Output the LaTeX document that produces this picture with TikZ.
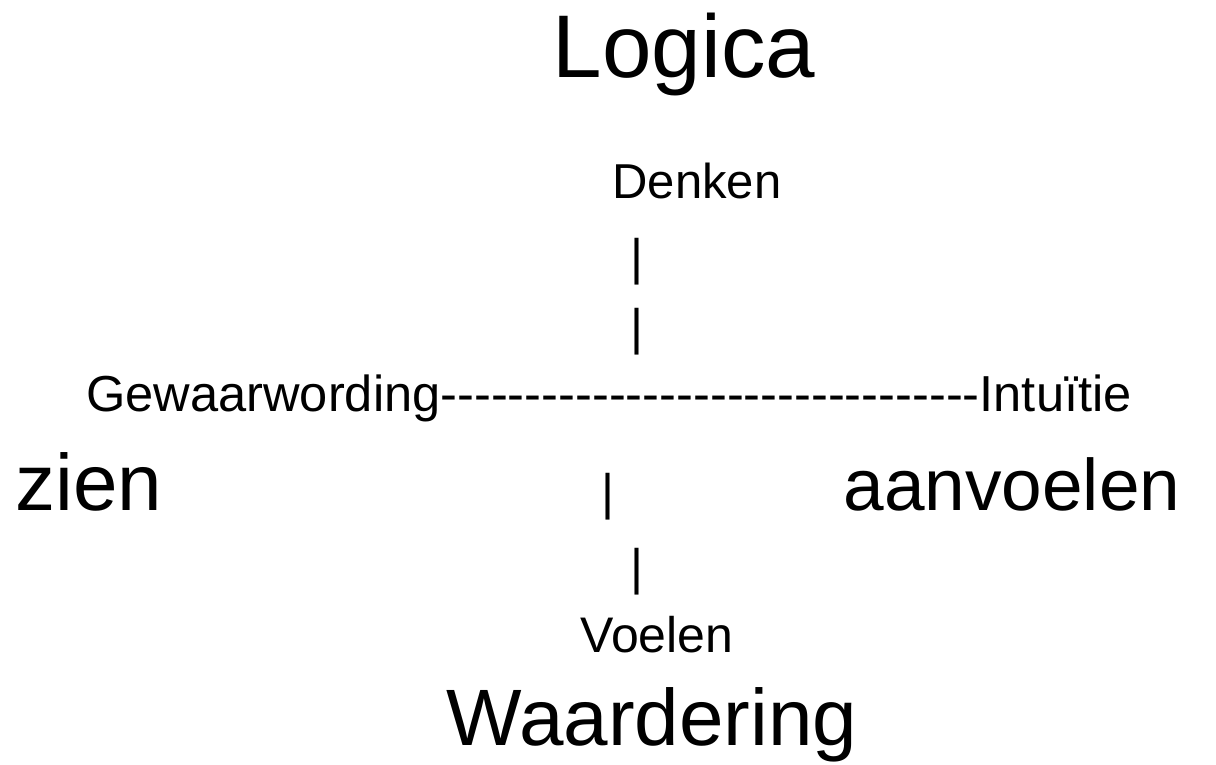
\documentclass[tikz,border=0pt]{standalone}
\usepackage{fontspec}
\setmainfont{Liberation Sans}
\usepackage{tikz}
\usetikzlibrary{positioning}
\tikzstyle{woord} = [inner sep=0pt, anchor=base]
\tikzstyle{groot} = [woord, font=\fontsize{80}{80}\selectfont]
\tikzstyle{klein} = [woord, font=\fontsize{50}{50}\selectfont]
\newcommand{\streep}{-{}}

\begin{document}
\begin{tikzpicture}[x=1pt, y=1pt]
	\useasboundingbox (0,0) rectangle (1216,-765);
	
	% Bovenkant: Logica en Denken
	\node[woord, font=\fontsize{89}{89}\selectfont] (logica) at (684,-78) {Logica};
	\node[klein, font=\fontsize{49}{49}\selectfont] (denken) at (697,-198) {Denken};
	
	% Streepjes onder Denken
	\node[klein] (streep1) at (637,-274) {|};
	\node[klein] (streep2) at (637,-344) {|};
	
	% Horizontale as
	\node[klein, font=\fontsize{50.6}{50.6}\selectfont] (as) at (609,-411) {Gewaarwording\foreach \k in {1,...,32}{\streep}Intuïtie};
	
	% Zijkanten
	\node[groot] (zien) at (89,-510) {zien};
	\node[groot, font=\fontsize{73}{73}\selectfont] (aanvoelen) at (1012,-510) {aanvoelen};
	
	% Streepjes boven Voelen
	\node[klein] (streep3) at (608,-509) {|};
	\node[klein] (streep4) at (637,-584) {|};
	
	% Onderkant: Voelen en Waardering
	\node[klein] (voelen) at (657,-652) {Voelen};
	\node[groot] (waardering) at (652,-745) {Waardering};
\end{tikzpicture}
\end{document}
